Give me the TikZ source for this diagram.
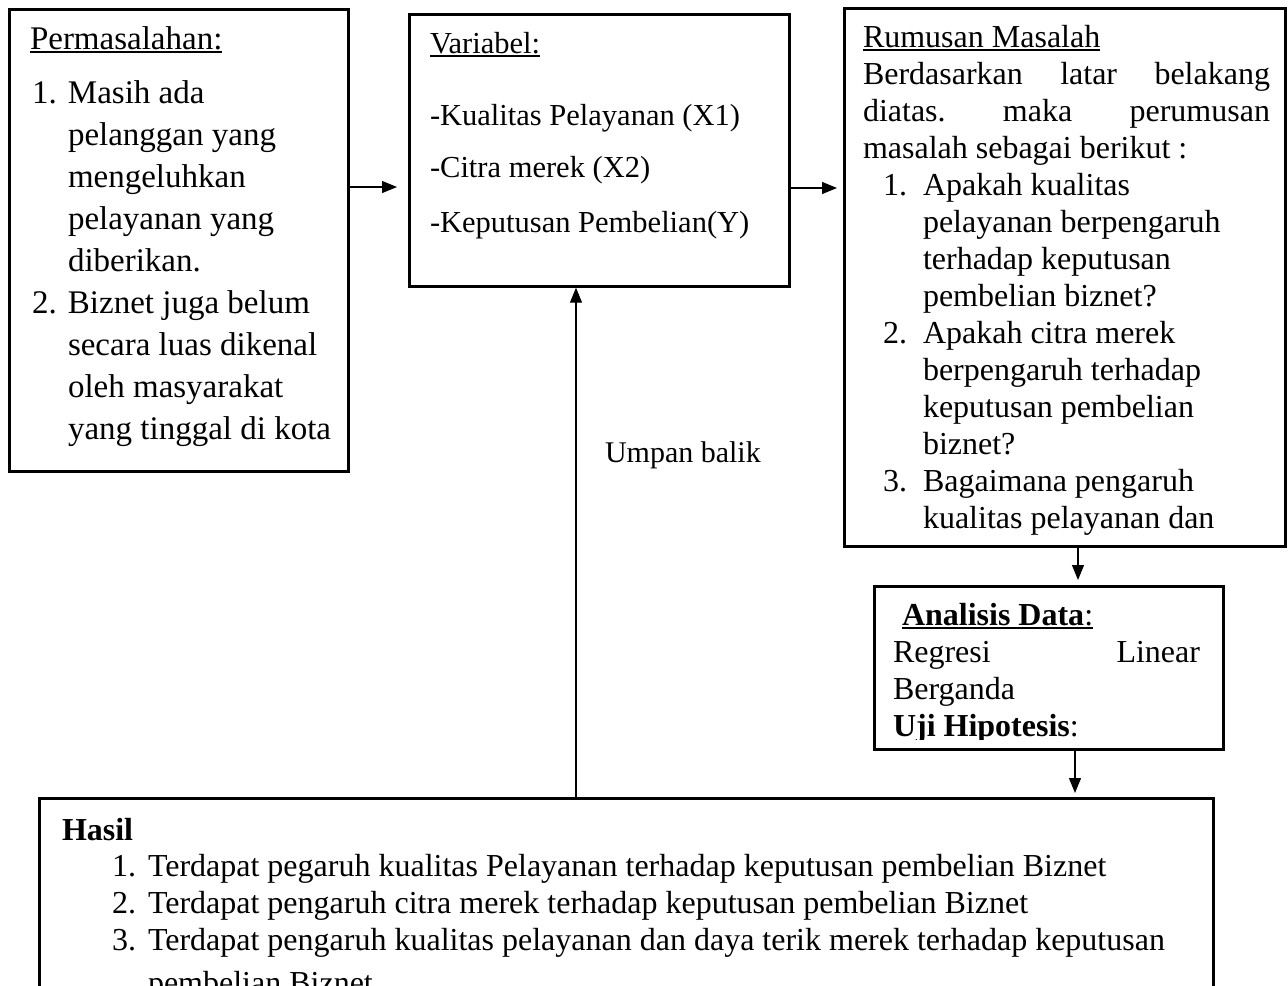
\documentclass[tikz,border=0pt]{standalone}
\usepackage{fontspec}
\setmainfont{Liberation Serif}
\usetikzlibrary{arrows.meta,calc}
\newcommand\ulx[1]{\setbox0\hbox{#1}\rlap{\rule[-3.5bp]{\wd0}{1.6bp}}\box0}
\begin{document}
\begin{tikzpicture}[x=1bp,y=-1bp,
  box/.style={draw, line width=2.7bp, rectangle, inner sep=0, anchor=north west},
  txt/.style={anchor=base west, inner sep=0, outer sep=0},
  arr/.style={line width=1.2bp, -{Triangle[length=15bp,width=12bp]}}]
\useasboundingbox (0,0) rectangle (1288,986);
\clip (0,0) rectangle (1288,986);
\fill[white] (0,0) rectangle (1288,986);

% boxes
\node[box, minimum width=339bp, minimum height=462bp] (b1) at (8,8) {};
\node[box, minimum width=380bp, minimum height=272bp] (b2) at (408,13) {};
\node[box, minimum width=441bp, minimum height=538bp] (b3) at (843,7) {};
\node[box, minimum width=349bp, minimum height=163bp] (b4) at (873,585) {};
\node[box, minimum width=1174bp, minimum height=260bp] (b5) at (38,797) {};

% box 1 text
\node[txt, font=\fontsize{33bp}{42bp}\selectfont] (t1) at (30,49) {\vtop{%
\hbox{\ulx{Permasalahan:}}\vskip12bp
\hbox{\hskip2bp\hbox to 36bp{1.\hfil}Masih ada}
\hbox{\hskip38bp pelanggan yang}
\hbox{\hskip38bp mengeluhkan}
\hbox{\hskip38bp pelayanan yang}
\hbox{\hskip38bp diberikan.}
\hbox{\hskip2bp\hbox to 36bp{2.\hfil}Biznet juga belum}
\hbox{\hskip38bp secara luas dikenal}
\hbox{\hskip38bp oleh masyarakat}
\hbox{\hskip38bp yang tinggal di kota}}};

% box 2 text
\node[txt, font=\fontsize{30.5bp}{52bp}\selectfont] (t2) at (430,53) {\vtop{%
\hbox{\ulx{Variabel:}}\vskip20bp
\hbox{-Kualitas Pelayanan (X1)}
\hbox{-Citra merek (X2)}\vskip3bp
\hbox{-Keputusan Pembelian(Y)}}};

% box 3 text
\node[txt, font=\fontsize{32bp}{37bp}\selectfont] (t3) at (863,47) {\vtop{%
\hbox{\ulx{Rumusan Masalah}}
\hbox to 407bp{Berdasarkan\hfill latar\hfill belakang}
\hbox to 407bp{diatas.\hfill maka\hfill perumusan}
\hbox{masalah sebagai berikut :}
\hbox{\hskip20bp\hbox to 40bp{1.\hfil}Apakah kualitas}
\hbox{\hskip60bp pelayanan berpengaruh}
\hbox{\hskip60bp terhadap keputusan}
\hbox{\hskip60bp pembelian biznet?}
\hbox{\hskip20bp\hbox to 40bp{2.\hfil}Apakah citra merek}
\hbox{\hskip60bp berpengaruh terhadap}
\hbox{\hskip60bp keputusan pembelian}
\hbox{\hskip60bp biznet?}
\hbox{\hskip20bp\hbox to 40bp{3.\hfil}Bagaimana pengaruh}
\hbox{\hskip60bp kualitas pelayanan dan}}};

% box 4 text (overflow hidden)
\begin{scope}
\clip (873,585) rectangle (1222,739);
\node[txt, font=\fontsize{32bp}{37bp}\selectfont] (t4) at (893,625) {\vtop{%
\hbox{\hskip9bp\ulx{\textbf{Analisis Data}:}}
\hbox to 307bp{Regresi\hfill Linear}
\hbox{Berganda}
\hbox{\textbf{Uji Hipotesis}:}}};
\end{scope}

% box 5 text
\node[txt, font=\fontsize{32bp}{37bp}\selectfont] (t5) at (62,840) {\vtop{%
\hbox{\textbf{Hasil}}\vskip-1bp
\hbox{\hskip50bp\hbox to 36bp{1.\hfil}Terdapat pegaruh kualitas Pelayanan terhadap keputusan pembelian Biznet}
\hbox{\hskip50bp\hbox to 36bp{2.\hfil}Terdapat pengaruh citra merek terhadap keputusan pembelian Biznet}
\hbox{\hskip50bp\hbox to 36bp{3.\hfil}Terdapat pengaruh kualitas pelayanan dan daya terik merek terhadap keputusan}\vskip6bp
\hbox{\hskip86bp pembelian Biznet}}};

% feedback label
\node[txt, font=\fontsize{30bp}{36bp}\selectfont] (lab) at (605,462) {Umpan balik};

% connectors
\draw[arr, shorten >=11bp] (b1.east |- 0,187) -- (b2.west |- 0,187);
\draw[arr, shorten >=6bp] (b2.east |- 0,188) -- (b3.west |- 0,188);
\draw[arr, shorten >=5bp] (b3.south -| 1078,0) -- (b4.north -| 1078,0);
\draw[arr, shorten >=4bp] (b4.south -| 1075,0) -- (b5.north -| 1075,0);
\draw[arr] (b5.north -| 576,0) -- (b2.south -| 576,0);
\end{tikzpicture}
\end{document}
